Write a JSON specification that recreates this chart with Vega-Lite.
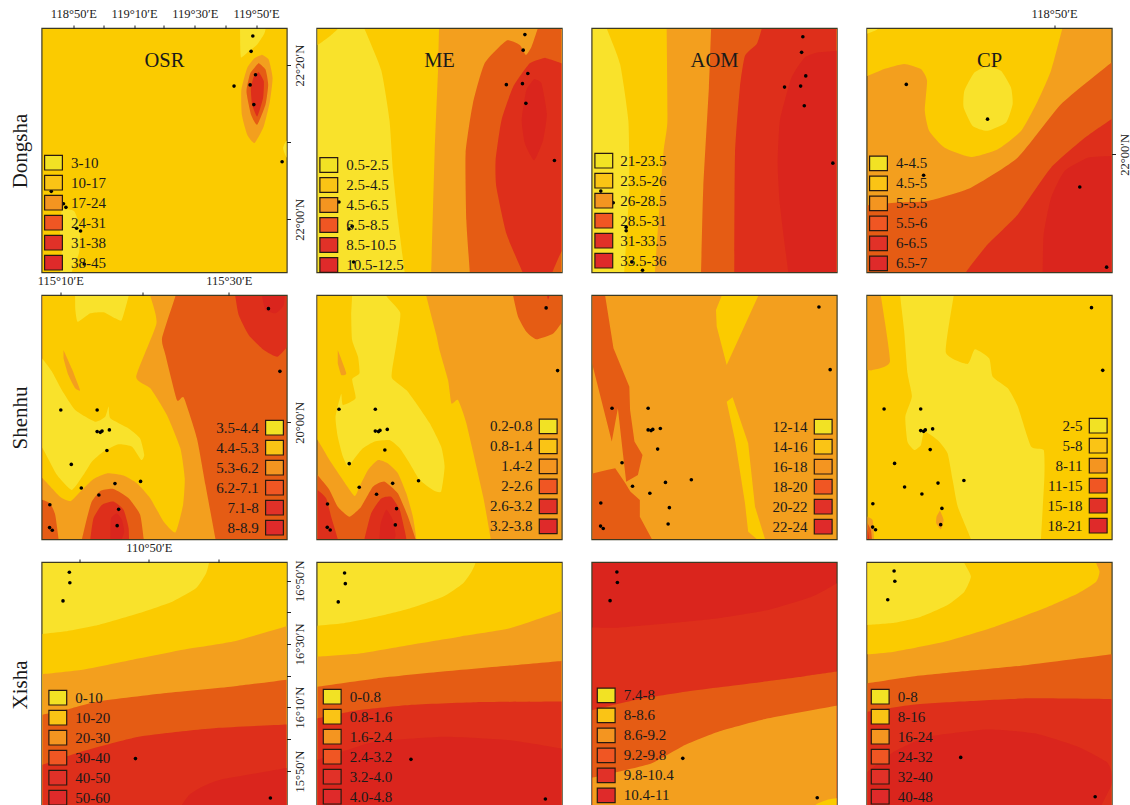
{"$schema":"https://vega.github.io/schema/vega-lite/v6.json","padding":{"left":7.5,"top":5,"right":0,"bottom":0},"background":"white","columns":4,"spacing":{"row":24,"column":31},"bounds":"flush","resolve":{"scale":{"fill":"independent"},"legend":{"fill":"independent"}},"config":{"font":"Liberation Serif","range":{"category":["#F9E22B","#FBCB00","#F39F1E","#E55C14","#DE2F1B","#DA251D"]},"view":{"stroke":"#3d3a22","strokeWidth":2.4},"axis":{"grid":false,"domain":false,"labelFont":"Liberation Serif","labelFontSize":12.5,"labelColor":"#222","tickColor":"#222","tickSize":4,"title":null,"labelOverlap":false,"labelBound":false,"labelFlush":false,"labelPadding":5,"titleFont":"Liberation Serif","titleFontSize":21,"titleFontWeight":"normal","titleColor":"#1a1a1a"},"legend":{"orient":"none","title":null,"zindex":1,"symbolSize":317,"labelFont":"Liberation Serif","labelFontSize":15,"labelColor":"#1a1a1a","labelOffset":7.5,"labelLimit":200},"title":{"font":"Liberation Serif","fontSize":20.5,"fontWeight":"normal","anchor":"middle","color":"#1a1a1a"},"circle":{"size":13,"color":"black","opacity":1},"square":{"size":0,"stroke":"#2a1a10","strokeWidth":1.2,"opacity":1},"line":{"stroke":"transparent","interpolate":"cardinal","tension":0.5}},"concat":[
{"title":{"text":"OSR","frame":"group","offset":-64,"zindex":1},"width":244,"height":243,"resolve":{"axis":{"y":"independent"},"scale":{"fill":"independent"}},"layer":[{"data":{"values":[
{"p":0,"l":"10-17","v":[[-9,-9],[109,-9],[109,109],[-9,109]]},
{"p":1,"l":"3-10","v":[[80.9,-6],[91.6,-6],[91.4,0],[90.7,2.3],[88,6.4],[84.5,9.2],[81.4,11.7],[81,5]]},
{"p":2,"l":"3-10","v":[[8,74],[13,75],[15.4,82],[15,92],[12,100],[11,106],[7,106],[8,90],[7,82],[8,74]]},
{"p":3,"l":"3-10","v":[[104,44],[100,46],[98.6,49],[100,52.8],[104,55]]},
{"p":4,"l":"17-24","v":[[90,10.6],[92.7,12.6],[94.3,20.2],[93.2,29.8],[90.7,40],[86.9,46.9],[83.9,43.5],[81.7,35.3],[81.5,25],[83.9,16],[86.9,12],[90,10.6]]},
{"p":5,"l":"24-31","v":[[88.6,14],[91.4,16.7],[92.5,22.9],[91.4,31.1],[88,39.4],[85.5,35.3],[83.6,25.7],[85.2,18.1],[88.6,14]]},
{"p":6,"l":"31-38","v":[[88.6,17.7],[90.7,21.5],[90.4,28.4],[88,36],[85.9,31.1],[85.4,24.3],[86.6,19.5],[88.6,17.7]]}
]},"transform":[{"flatten":["v"]},{"window":[{"op":"row_number","as":"k"}]}],"mark":{"type":"line","clip":true},"encoding":{"x":{"field":"v[0]","type":"quantitative","scale":{"domain":[0,100],"nice":false,"zero":false},"axis":{"orient":"top","values":[12.6,25.1,37.5,49.7,62.4,74.9,87.5],"labelExpr":"datum.value==12.6?'118°50′E':datum.value==37.5?'119°10′E':datum.value==62.4?'119°30′E':datum.value==87.5?'119°50′E':''"}},"y":{"field":"v[1]","type":"quantitative","scale":{"domain":[100,0],"nice":false,"zero":false},"axis":{"orient":"right","values":[14.9,46.7,78.3],"labelAngle":-90,"labelAlign":"center","labelBaseline":"top","labelPadding":3,"labelExpr":"datum.value==14.9?'22°20′N':datum.value==78.3?'22°00′N':''"}},"fill":{"field":"l","type":"nominal","scale":{"domain":["3-10","10-17","17-24","24-31","31-38","38-45"]},"legend":null},"detail":{"field":"p"},"order":{"field":"k","type":"quantitative"}}},
{"data":{"values":[{"v":[86.2,2.9]},{"v":[85.5,9.2]},{"v":[87.3,18.8]},{"v":[85.1,23]},{"v":[78.5,23.5]},{"v":[86.6,31.1]},{"v":[98.2,54.6]},{"v":[3.6,66.8]},{"v":[8.6,71.9]},{"v":[9.6,73.4]},{"v":[14,82]},{"v":[15.6,83.1]},{"v":[17.1,96.7]}]},"mark":"circle","encoding":{"x":{"field":"v[0]","type":"quantitative"},"y":{"field":"v[1]","type":"quantitative","axis":{"orient":"left","title":"Dongsha","labels":false,"ticks":false,"titlePadding":12.5}}}},
{"data":{"values":[{"l":"3-10"},{"l":"10-17"},{"l":"17-24"},{"l":"24-31"},{"l":"31-38"},{"l":"38-45"}]},"mark":"square","encoding":{"fill":{"field":"l","type":"nominal","scale":{"domain":["3-10","10-17","17-24","24-31","31-38","38-45"],"range":["#F2E224","#FAC415","#F49520","#F05623","#E13128","#DF2A2A"]},"legend":{"legendX":1,"legendY":123.7,"symbolType":"M-1,-0.82H1V0.82H-1Z","rowPadding":0}}}}]},
{"title":{"text":"ME","frame":"group","offset":-42,"zindex":1},"width":244,"height":243,"resolve":{"scale":{"fill":"independent"}},"layer":[{"data":{"values":[
{"p":0,"l":"0.5-2.5","v":[[-9,-9],[109,-9],[109,109],[-9,109]]},
{"p":1,"l":"2.5-4.5","v":[[-8,10],[0,6.6],[5,3],[8.3,0],[10,-3],[-8,-3]]},
{"p":2,"l":"2.5-4.5","v":[[17,-6],[19.3,0],[26.1,16.9],[29.5,37.5],[30.9,58.1],[33,78.7],[35.7,100],[37,110],[110,110],[110,-6]]},
{"p":3,"l":"4.5-6.5","v":[[50,-6],[49.8,0],[49.4,16.9],[48,51.2],[46.6,100],[46,110],[110,110],[110,-6]]},
{"p":4,"l":"6.5-8.5","v":[[62.6,110],[62.4,100],[61,78.7],[60.7,51.2],[63.7,30.6],[68.5,14.1],[77.4,4.8],[82.9,6.6],[85.4,10.7],[87.7,7.3],[90.2,0],[92,-6],[110,-6],[110,110]]},
{"p":5,"l":"8.5-10.5","v":[[93.2,11.8],[100,14.1],[106,18],[110,60],[106,85],[100,91.7],[96.3,100],[94,106],[86,106],[84,100],[77.4,84.2],[73.3,65],[73,54],[75.4,37.5],[80.2,23.8],[87,14.1],[93.2,11.8]]},
{"p":6,"l":"10.5-12.5","v":[[88.8,20.6],[91.8,22.4],[94,34.8],[92.5,45.7],[88.8,54],[85,47.1],[83.7,37.5],[85.6,25.1],[88.8,20.6]]}
]},"transform":[{"flatten":["v"]},{"window":[{"op":"row_number","as":"k"}]}],"mark":{"type":"line","clip":true},"encoding":{"x":{"field":"v[0]","type":"quantitative","scale":{"domain":[0,100],"nice":false,"zero":false},"axis":null},"y":{"field":"v[1]","type":"quantitative","scale":{"domain":[100,0],"nice":false,"zero":false},"axis":null},"fill":{"field":"l","type":"nominal","scale":{"domain":["0.5-2.5","2.5-4.5","4.5-6.5","6.5-8.5","8.5-10.5","10.5-12.5"]},"legend":null},"detail":{"field":"p"},"order":{"field":"k","type":"quantitative"}}},
{"data":{"values":[{"v":[85,2.3]},{"v":[84.3,8.7]},{"v":[86.2,18.3]},{"v":[84,22.5]},{"v":[77.4,22.9]},{"v":[85.4,30.6]},{"v":[97.1,54.1]},{"v":[8.8,71.2]},{"v":[14.2,81.2]},{"v":[12.9,82.3]},{"v":[14.8,95.9]},{"v":[3,66.3]}]},"mark":"circle","encoding":{"x":{"field":"v[0]","type":"quantitative"},"y":{"field":"v[1]","type":"quantitative"}}},
{"data":{"values":[{"l":"0.5-2.5"},{"l":"2.5-4.5"},{"l":"4.5-6.5"},{"l":"6.5-8.5"},{"l":"8.5-10.5"},{"l":"10.5-12.5"}]},"mark":"square","encoding":{"fill":{"field":"l","type":"nominal","scale":{"domain":["0.5-2.5","2.5-4.5","4.5-6.5","6.5-8.5","8.5-10.5","10.5-12.5"],"range":["#F2E224","#FAC415","#F49520","#F05623","#E13128","#DF2A2A"]},"legend":{"legendX":1.3,"legendY":126,"symbolType":"M-1,-0.82H1V0.82H-1Z","rowPadding":0}}}}]},
{"title":{"text":"AOM","frame":"group","offset":-42,"zindex":1},"width":244,"height":243,"resolve":{"scale":{"fill":"independent"}},"layer":[{"data":{"values":[
{"p":0,"l":"21-23.5","v":[[-9,-9],[109,-9],[109,109],[-9,109]]},
{"p":1,"l":"23.5-26","v":[[4,-5],[5.9,0],[11.3,14.4],[14.7,37.8],[15.1,65.3],[14,84.6],[13,100],[12.5,110],[110,110],[110,-5]]},
{"p":2,"l":"26-28.5","v":[[30.4,-6],[30.4,0],[30.7,37.8],[29,51.6],[25.6,100],[25,110],[110,110],[110,-6]]},
{"p":3,"l":"28.5-31","v":[[48.7,-6],[48.6,0],[47.7,24.1],[45.4,65.3],[44.5,100],[44.3,110],[110,110],[110,-6]]},
{"p":4,"l":"31-33.5","v":[[70,-6],[69.3,0],[67.3,6.2],[62.5,11],[60.4,24.1],[58.4,51.6],[58.1,100],[58,110],[110,110],[110,-6]]},
{"p":5,"l":"33.5-36","v":[[92.5,9.6],[100,8.9],[110,8],[110,110],[81,110],[80.2,100],[76.8,72.2],[75.9,55.7],[76.8,37.8],[81.6,19.9],[87,11.7],[92.5,9.6]]}
]},"transform":[{"flatten":["v"]},{"window":[{"op":"row_number","as":"k"}]}],"mark":{"type":"line","clip":true},"encoding":{"x":{"field":"v[0]","type":"quantitative","scale":{"domain":[0,100],"nice":false,"zero":false},"axis":null},"y":{"field":"v[1]","type":"quantitative","scale":{"domain":[100,0],"nice":false,"zero":false},"axis":null},"fill":{"field":"l","type":"nominal","scale":{"domain":["21-23.5","23.5-26","26-28.5","28.5-31","31-33.5","33.5-36"]},"legend":null},"detail":{"field":"p"},"order":{"field":"k","type":"quantitative"}}},
{"data":{"values":[{"v":[86.2,3.2]},{"v":[85.7,9.6]},{"v":[87.4,19.3]},{"v":[85.3,23.5]},{"v":[78.7,23.9]},{"v":[86.8,31.6]},{"v":[98.5,55.2]},{"v":[3.4,66.7]},{"v":[8.5,71.5]},{"v":[13.8,81.6]},{"v":[13.8,83]},{"v":[16.1,95.9]},{"v":[20.5,99.3]}]},"mark":"circle","encoding":{"x":{"field":"v[0]","type":"quantitative"},"y":{"field":"v[1]","type":"quantitative"}}},
{"data":{"values":[{"l":"21-23.5"},{"l":"23.5-26"},{"l":"26-28.5"},{"l":"28.5-31"},{"l":"31-33.5"},{"l":"33.5-36"}]},"mark":"square","encoding":{"fill":{"field":"l","type":"nominal","scale":{"domain":["21-23.5","23.5-26","26-28.5","28.5-31","31-33.5","33.5-36"],"range":["#F2E224","#FAC415","#F49520","#F05623","#E13128","#DF2A2A"]},"legend":{"legendX":1.3,"legendY":121.7,"labelOffset":6.5,"symbolType":"M-1,-0.82H1V0.82H-1Z","rowPadding":0}}}}]},
{"title":{"text":"CP","frame":"group","offset":-64,"zindex":1},"width":244,"height":243,"resolve":{"scale":{"fill":"independent"}},"layer":[{"data":{"values":[
{"p":0,"l":"5-5.5","v":[[-9,-9],[109,-9],[109,109],[-9,109]]},
{"p":1,"l":"4.5-5","v":[[-8,20],[0,19.3],[6.8,16.5],[15,14.4],[21.9,16.5],[24.4,21.3],[23.5,33.7],[25.3,42],[31.5,48.8],[42.4,52.7],[53.4,49.5],[63,41.9],[69.8,29.6],[75.2,17.2],[79.8,0],[81,-6],[-8,-6]]},
{"p":2,"l":"4-4.5","v":[[49.2,15.2],[54.7,17.2],[58.8,24.1],[59.5,30.9],[56.8,38.5],[49.2,41.9],[43.1,39.9],[39.4,32.3],[39.7,25.4],[43.8,17.9],[49.2,15.2]]},
{"p":3,"l":"4-4.5","v":[[0,-3],[4.1,0],[0.3,1.8],[-3,3]]},
{"p":4,"l":"5.5-6","v":[[-8,73],[0,72.5],[11,71.5],[24.6,70.8],[42.4,65.3],[61.6,52.9],[79.3,31],[100,13.8],[108,7],[110,110],[-8,110]]},
{"p":5,"l":"6-6.5","v":[[38,106],[40.4,100],[49.2,88.7],[61.6,76.3],[75.2,57.1],[88.9,44.9],[100,37.1],[108,33],[110,110]]},
{"p":6,"l":"6.5-7","v":[[71.7,110],[71.8,100],[72.2,84.6],[75.2,69.5],[80.7,58.5],[90.3,53],[100,52.3],[110,52],[110,110]]}
]},"transform":[{"flatten":["v"]},{"window":[{"op":"row_number","as":"k"}]}],"mark":{"type":"line","clip":true},"encoding":{"x":{"field":"v[0]","type":"quantitative","scale":{"domain":[0,100],"nice":false,"zero":false},"axis":{"orient":"top","values":[76.5],"labelExpr":"'118°50′E'"}},"y":{"field":"v[1]","type":"quantitative","scale":{"domain":[100,0],"nice":false,"zero":false},"axis":{"orient":"right","values":[51.6],"labelAngle":-90,"labelAlign":"center","labelBaseline":"top","labelPadding":3,"labelExpr":"'22°00′N'"}},"fill":{"field":"l","type":"nominal","scale":{"domain":["4-4.5","4.5-5","5-5.5","5.5-6","6-6.5","6.5-7"]},"legend":null},"detail":{"field":"p"},"order":{"field":"k","type":"quantitative"}}},
{"data":{"values":[{"v":[15.9,22.8]},{"v":[49.2,37.1]},{"v":[23,60.2]},{"v":[87,65]},{"v":[98,98]}]},"mark":"circle","encoding":{"x":{"field":"v[0]","type":"quantitative"},"y":{"field":"v[1]","type":"quantitative"}}},
{"data":{"values":[{"l":"4-4.5"},{"l":"4.5-5"},{"l":"5-5.5"},{"l":"5.5-6"},{"l":"6-6.5"},{"l":"6.5-7"}]},"mark":"square","encoding":{"fill":{"field":"l","type":"nominal","scale":{"domain":["4-4.5","4.5-5","5-5.5","5.5-6","6-6.5","6.5-7"],"range":["#F2E224","#FAC415","#F49520","#F05623","#E13128","#DF2A2A"]},"legend":{"legendX":1,"legendY":124.4,"symbolType":"M-1,-0.82H1V0.82H-1Z","rowPadding":0}}}}]},
{"width":244,"height":243,"resolve":{"axis":{"y":"independent"},"scale":{"fill":"independent"}},"layer":[{"data":{"values":[
{"p":0,"l":"6.2-7.1","v":[[-9,-9],[109,-9],[109,109],[-9,109]]},
{"p":1,"l":"5.3-6.2","v":[[-8,-8],[56,-6],[54.5,0],[49,17.4],[50.4,24.3],[55.1,42.8],[57.9,41.8],[63.3,58.6],[66.8,77.8],[70.9,100],[72,106],[42,106],[41.5,100],[40,90],[35.3,83.2],[29.1,79.4],[23.7,80.2],[20.2,84.6],[18.2,91.5],[16.2,100],[15,106],[7,106],[6.6,100],[5.2,90],[3.1,85.3],[0,83.9],[-8,83]]},
{"p":2,"l":"4.4-5.3","v":[[-8,-8],[43,-6],[44.2,0],[46.7,11.3],[38.4,33.2],[44.2,38],[51,49],[56.5,62.7],[58.3,75],[57.6,86],[54.5,97.3],[49.7,92.9],[44.2,83.3],[38.7,77.1],[33.2,73.9],[26.4,73],[20.9,75.3],[15.5,80.5],[11.6,84.4],[7.2,82.6],[0,75],[-8,68]]},
{"p":3,"l":"5.3-6.2","v":[[8.6,22.2],[12,29.8],[15.4,38.7],[13.4,38],[10.6,32.5],[8.6,25.6]]},
{"p":4,"l":"3.5-4.4","v":[[13.3,-6],[36,-6],[35.3,0],[32.5,9.9],[29.8,9.2],[25,6.7],[19.6,7.1],[14.4,10.6],[13.4,5]]},
{"p":5,"l":"3.5-4.4","v":[[-8,18],[0,25.9],[3.8,31],[7.9,38.7],[13.4,46.9],[21.6,51.7],[25.7,49.7],[27.1,45.5],[27.8,50.3],[35.3,54.5],[40,58.6],[41.7,65.4],[40.5,67.5],[36.7,62],[31.2,61],[25,64],[20.2,68.2],[16.8,73.6],[12,79.8],[5.9,73.6],[0,62.7],[-8,52]]},
{"p":6,"l":"7.1-8","v":[[78,-6],[79,0],[80.4,7.8],[84.5,16],[90.7,22.2],[96.2,25],[100,21.3],[106,15],[106,-6]]},
{"p":7,"l":"8-8.9","v":[[89,-6],[90,0],[91.4,5.8],[95.5,7.1],[98.9,3.7],[99.5,-6]]},
{"p":8,"l":"7.1-8","v":[[19,106],[19.6,100],[20.9,91.5],[24.3,86],[29.1,84.6],[33.2,88],[35.3,95.6],[35.5,106]]},
{"p":9,"l":"8-8.9","v":[[27.7,106],[27.8,100],[28.1,91.5],[30.5,89.5],[32.6,92.2],[33.5,97],[32.6,100],[32,106]]}
]},"transform":[{"flatten":["v"]},{"window":[{"op":"row_number","as":"k"}]}],"mark":{"type":"line","clip":true},"encoding":{"x":{"field":"v[0]","type":"quantitative","scale":{"domain":[0,100],"nice":false,"zero":false},"axis":{"orient":"top","values":[7.3,41.1,76.4],"labelExpr":"datum.value==7.3?'115°10′E':datum.value==76.4?'115°30′E':''"}},"y":{"field":"v[1]","type":"quantitative","scale":{"domain":[100,0],"nice":false,"zero":false},"axis":{"orient":"right","values":[52],"labelAngle":-90,"labelAlign":"center","labelBaseline":"top","labelPadding":3,"labelExpr":"'20°00′N'"}},"fill":{"field":"l","type":"nominal","scale":{"domain":["3.5-4.4","4.4-5.3","5.3-6.2","6.2-7.1","7.1-8","8-8.9"]},"legend":null},"detail":{"field":"p"},"order":{"field":"k","type":"quantitative"}}},
{"data":{"values":[{"v":[92.6,5.2]},{"v":[97.3,31]},{"v":[7.5,46.9]},{"v":[22.4,46.9]},{"v":[22.4,55.8]},{"v":[23.7,56.1]},{"v":[24.4,55.6]},{"v":[27.4,55.1]},{"v":[26.4,63.6]},{"v":[11.8,69.3]},{"v":[15.9,79]},{"v":[29.7,77.2]},{"v":[40.2,76.3]},{"v":[23.1,81.9]},{"v":[3,85.9]},{"v":[31.2,87.8]},{"v":[30.6,94.5]},{"v":[2.9,95.3]},{"v":[4,96.4]}]},"mark":"circle","encoding":{"x":{"field":"v[0]","type":"quantitative"},"y":{"field":"v[1]","type":"quantitative","axis":{"orient":"left","title":"Shenhu","labels":false,"ticks":false,"titlePadding":12.5}}}},
{"data":{"values":[{"l":"3.5-4.4"},{"l":"4.4-5.3"},{"l":"5.3-6.2"},{"l":"6.2-7.1"},{"l":"7.1-8"},{"l":"8-8.9"}]},"mark":"square","encoding":{"fill":{"field":"l","type":"nominal","scale":{"domain":["3.5-4.4","4.4-5.3","5.3-6.2","6.2-7.1","7.1-8","8-8.9"],"range":["#F2E224","#FAC415","#F49520","#F05623","#E13128","#DF2A2A"]},"legend":{"legendX":222,"legendY":121.7,"labelAlign":"right","labelOffset":-25.8,"symbolType":"M-1,-0.82H1V0.82H-1Z","rowPadding":0}}}}]},
{"width":244,"height":243,"resolve":{"scale":{"fill":"independent"}},"layer":[{"data":{"values":[
{"p":0,"l":"1.4-2","v":[[-9,-9],[109,-9],[109,109],[-9,109]]},
{"p":1,"l":"0.8-1.4","v":[[-8,-8],[44,-6],[44.6,0],[48.7,16],[50,22.2],[53.5,34.6],[54.9,44.2],[57.6,42.8],[61,52.4],[67.9,82.6],[71,100],[72,106],[40,106],[40.5,100],[39.1,90.8],[36.4,81.2],[33,73],[28.9,68.9],[24.8,67.5],[20.7,71.6],[17.2,78.5],[15.2,82.3],[10.4,75.7],[4.9,67.5],[0,59.3],[-8,50]]},
{"p":2,"l":"1.4-2","v":[[8.3,22.2],[11.8,31.8],[9.7,32.5],[8.3,27.7]]},
{"p":3,"l":"0.2-0.8","v":[[14.5,-6],[27,-6],[28.2,0],[33.9,6.9],[32.6,18.1],[30.6,30.4],[30.6,33.9],[36.4,38.7],[40.5,44.2],[46,52.4],[50.7,62],[52.1,70.2],[50.7,80.5],[47.3,79.8],[41.9,75.7],[37.8,68.9],[33.7,62.7],[29.5,59.3],[23.4,59.9],[18.6,62.7],[15.2,66.8],[12.5,70.2],[10.4,66.1],[8.3,57.9],[7.4,49.7],[9.7,40.3],[10.4,44.9],[15.6,42.1],[14.2,34.3],[17.2,31.8],[16.6,25],[14.2,18.1],[13.8,7.1]]},
{"p":4,"l":"2-2.6","v":[[-8,64],[0,73.7],[4.9,79.8],[8.3,86.7],[13.1,90.8],[17.9,86.7],[22.7,78.5],[27.5,76.4],[32.9,81.2],[37.1,90.8],[40.2,100],[42,106],[-8,106]]},
{"p":5,"l":"2.6-3.2","v":[[-8,75],[0,79.8],[3.6,83.3],[5.6,90.8],[8.3,100],[9,106],[-8,106]]},
{"p":6,"l":"2.6-3.2","v":[[19,106],[19.3,100],[22,89.4],[26.1,83.3],[30.2,82.6],[33.7,88],[35.7,96.3],[36.4,100],[36.6,106]]},
{"p":7,"l":"3.2-3.8","v":[[25.3,106],[25.4,100],[25.9,93.6],[28.2,88],[30.9,92.2],[32,98.3],[31.6,100],[31.4,106]]},
{"p":8,"l":"2-2.6","v":[[79.5,-6],[80.2,0],[82.2,8.5],[85.6,14.7],[89.7,17.8],[96.6,15.4],[100,11.2],[106,5],[106,-6]]},
{"p":9,"l":"2.6-3.2","v":[[93.5,-3],[94.5,1.4],[96,-3]]}
]},"transform":[{"flatten":["v"]},{"window":[{"op":"row_number","as":"k"}]}],"mark":{"type":"line","clip":true},"encoding":{"x":{"field":"v[0]","type":"quantitative","scale":{"domain":[0,100],"nice":false,"zero":false},"axis":null},"y":{"field":"v[1]","type":"quantitative","scale":{"domain":[100,0],"nice":false,"zero":false},"axis":null},"fill":{"field":"l","type":"nominal","scale":{"domain":["0.2-0.8","0.8-1.4","1.4-2","2-2.6","2.6-3.2","3.2-3.8"]},"legend":null},"detail":{"field":"p"},"order":{"field":"k","type":"quantitative"}}},
{"data":{"values":[{"v":[93.7,4.9]},{"v":[98.4,30.7]},{"v":[8.8,46.6]},{"v":[23.7,46.6]},{"v":[23.7,55.6]},{"v":[25,55.8]},{"v":[25.6,55.3]},{"v":[28.6,54.9]},{"v":[27.6,63.4]},{"v":[13,69]},{"v":[17.1,78.7]},{"v":[30.8,77.1]},{"v":[41.4,76]},{"v":[24.2,81.6]},{"v":[4.1,85.6]},{"v":[32.4,87.5]},{"v":[31.9,94.2]},{"v":[4,95.2]},{"v":[5.2,96.3]}]},"mark":"circle","encoding":{"x":{"field":"v[0]","type":"quantitative"},"y":{"field":"v[1]","type":"quantitative"}}},
{"data":{"values":[{"l":"0.2-0.8"},{"l":"0.8-1.4"},{"l":"1.4-2"},{"l":"2-2.6"},{"l":"2.6-3.2"},{"l":"3.2-3.8"}]},"mark":"square","encoding":{"fill":{"field":"l","type":"nominal","scale":{"domain":["0.2-0.8","0.8-1.4","1.4-2","2-2.6","2.6-3.2","3.2-3.8"],"range":["#F2E224","#FAC415","#F49520","#F05623","#E13128","#DF2A2A"]},"legend":{"legendX":220.7,"legendY":120.4,"labelAlign":"right","labelOffset":-25.8,"symbolType":"M-1,-0.82H1V0.82H-1Z","rowPadding":0}}}}]},
{"width":244,"height":243,"resolve":{"scale":{"fill":"independent"}},"layer":[{"data":{"values":[
{"p":0,"l":"16-18","v":[[-9,-9],[109,-9],[109,109],[-9,109]]},
{"p":1,"l":"18-20","v":[[-5,-5],[4.5,-5],[5.2,0],[8.6,21.5],[15.1,37.3],[15.4,46.9],[17.2,59.9],[20.5,65.4],[18.6,73.7],[13.8,76.4],[12.3,63.4],[10.4,46.2],[7.9,59.9],[0,28.4],[-5,10]]},
{"p":2,"l":"18-20","v":[[-5,73.5],[0,73],[5.9,71.6],[9.3,70.9],[13.4,77],[15.5,80.5],[19.4,84],[19.4,90.8],[24.3,100],[27,105],[-5,105]]},
{"p":3,"l":"14-16","v":[[52.9,-5],[70,-5],[67.9,0],[55,28.4],[50.9,12.6],[50.6,5.8],[52.9,0]]},
{"p":4,"l":"14-16","v":[[57.4,41.7],[55,43.5],[58.4,59.3],[62.5,85.3],[63.8,97],[67.3,100],[70.7,100],[66.6,86.7],[63.8,60.6],[57.4,41.7]]}
]},"transform":[{"flatten":["v"]},{"window":[{"op":"row_number","as":"k"}]}],"mark":{"type":"line","clip":true,"interpolate":"linear"},"encoding":{"x":{"field":"v[0]","type":"quantitative","scale":{"domain":[0,100],"nice":false,"zero":false},"axis":null},"y":{"field":"v[1]","type":"quantitative","scale":{"domain":[100,0],"nice":false,"zero":false},"axis":null},"fill":{"field":"l","type":"nominal","scale":{"domain":["12-14","14-16","16-18","18-20","20-22","22-24"]},"legend":null},"detail":{"field":"p"},"order":{"field":"k","type":"quantitative"}}},
{"data":{"values":[{"v":[92.8,4.5]},{"v":[97.4,30.3]},{"v":[8,46.2]},{"v":[22.8,46.2]},{"v":[22.8,55.1]},{"v":[24,55.4]},{"v":[24.7,54.9]},{"v":[27.8,54.5]},{"v":[26.7,63]},{"v":[12.1,68.6]},{"v":[16.4,78.3]},{"v":[29.9,76.7]},{"v":[40.5,75.6]},{"v":[23.5,81.2]},{"v":[3.4,85.2]},{"v":[31.5,87.1]},{"v":[31,93.8]},{"v":[3.3,94.7]},{"v":[4.4,95.7]}]},"mark":"circle","encoding":{"x":{"field":"v[0]","type":"quantitative"},"y":{"field":"v[1]","type":"quantitative"}}},
{"data":{"values":[{"l":"12-14"},{"l":"14-16"},{"l":"16-18"},{"l":"18-20"},{"l":"20-22"},{"l":"22-24"}]},"mark":"square","encoding":{"fill":{"field":"l","type":"nominal","scale":{"domain":["12-14","14-16","16-18","18-20","20-22","22-24"],"range":["#F2E224","#FAC415","#F49520","#F05623","#E13128","#DF2A2A"]},"legend":{"legendX":220.7,"legendY":120.7,"labelAlign":"right","labelOffset":-25.8,"symbolType":"M-1,-0.82H1V0.82H-1Z","rowPadding":0}}}}]},
{"width":244,"height":243,"resolve":{"scale":{"fill":"independent"}},"layer":[{"data":{"values":[
{"p":0,"l":"5-8","v":[[-9,-9],[109,-9],[109,109],[-9,109]]},
{"p":1,"l":"8-11","v":[[-8,-6],[5,-6],[5.5,0],[9.2,27],[2.1,30.5],[0,30.5],[-8,31]]},
{"p":2,"l":"2-5","v":[[13.2,-6],[13.4,0],[15,14],[16.4,31.8],[18.2,41.4],[15.5,49.7],[16.4,60],[19.2,63.4],[21.9,61.3],[23.3,55.8],[28.7,59.3],[32.8,64.7],[34.9,75.7],[37,86.7],[42.4,100],[44,106],[71,106],[71.1,100],[72.5,74.3],[72.2,63.4],[67,61.9],[61.6,45.5],[57.5,38],[51.3,33.2],[49.9,25.7],[44,21.9],[41,28],[32.1,23.3],[35.3,0],[36,-6]]},
{"p":3,"l":"8-11","v":[[29.7,88.3],[31.2,92.2],[30.1,96],[28.2,93.6],[28.3,90.8],[29.7,88.3]]},
{"p":4,"l":"8-11","v":[[-4,88],[0,90.8],[2.1,92.2],[2.7,100],[3,106],[-4,106]]},
{"p":5,"l":"11-15","v":[[-3,91],[0,93.6],[1.4,96.3],[1.8,100],[2,106],[-3,106]]},
{"p":6,"l":"15-18","v":[[-3,94],[0,96.3],[0.7,100],[1,106],[-3,106]]}
]},"transform":[{"flatten":["v"]},{"window":[{"op":"row_number","as":"k"}]}],"mark":{"type":"line","clip":true},"encoding":{"x":{"field":"v[0]","type":"quantitative","scale":{"domain":[0,100],"nice":false,"zero":false},"axis":null},"y":{"field":"v[1]","type":"quantitative","scale":{"domain":[100,0],"nice":false,"zero":false},"axis":null},"fill":{"field":"l","type":"nominal","scale":{"domain":["2-5","5-8","8-11","11-15","15-18","18-21"]},"legend":null},"detail":{"field":"p"},"order":{"field":"k","type":"quantitative"}}},
{"data":{"values":[{"v":[91.8,4.8]},{"v":[96.4,30.6]},{"v":[6.8,46.5]},{"v":[21.8,46.5]},{"v":[21.8,55.4]},{"v":[23,55.7]},{"v":[23.7,55.1]},{"v":[26.7,54.7]},{"v":[25.7,63.2]},{"v":[11.1,68.9]},{"v":[15.2,78.6]},{"v":[28.9,77]},{"v":[39.5,75.9]},{"v":[22.3,81.5]},{"v":[2.2,85.5]},{"v":[30.5,87.4]},{"v":[30,94.1]},{"v":[2.1,95.1]},{"v":[3.3,96.2]}]},"mark":"circle","encoding":{"x":{"field":"v[0]","type":"quantitative"},"y":{"field":"v[1]","type":"quantitative"}}},
{"data":{"values":[{"l":"2-5"},{"l":"5-8"},{"l":"8-11"},{"l":"11-15"},{"l":"15-18"},{"l":"18-21"}]},"mark":"square","encoding":{"fill":{"field":"l","type":"nominal","scale":{"domain":["2-5","5-8","8-11","11-15","15-18","18-21"],"range":["#F2E224","#FAC415","#F49520","#F05623","#E13128","#DF2A2A"]},"legend":{"legendX":220.7,"legendY":119.7,"labelAlign":"right","labelOffset":-25.8,"symbolType":"M-1,-0.82H1V0.82H-1Z","rowPadding":0}}}}]},
{"width":244,"height":243,"resolve":{"axis":{"y":"independent"},"scale":{"fill":"independent"}},"layer":[{"data":{"values":[
{"p":0,"l":"0-10","v":[[-9,-9],[109,-9],[109,109],[-9,109]]},
{"p":1,"l":"10-20","v":[[-8,30],[0,29.2],[9.6,28.1],[23.3,25.4],[39.7,20.6],[53.4,15.8],[63,10.3],[67.1,4.1],[68.2,0],[69,-6],[110,-6],[110,110],[-8,110]]},
{"p":2,"l":"20-30","v":[[-8,46.3],[0,45.7],[16.4,43.9],[37,39.8],[57.5,35.7],[78.1,32.3],[100,26],[108,23.5],[110,110],[-8,110]]},
{"p":3,"l":"30-40","v":[[-8,63.5],[0,62.4],[9.6,60.4],[23.3,56.9],[50.7,53.5],[78.1,50.8],[100,48],[108,47],[110,110],[-8,110]]},
{"p":4,"l":"40-50","v":[[-8,85],[0,83],[16.4,77.5],[37,72],[50.7,70],[71.2,67.9],[100,66.5],[108,66],[110,110],[-8,110]]},
{"p":5,"l":"50-60","v":[[55,106],[56.9,100],[60.3,95.3],[65.8,91.9],[73.3,89.1],[100,84.4],[108,83],[110,110]]}
]},"transform":[{"flatten":["v"]},{"window":[{"op":"row_number","as":"k"}]}],"mark":{"type":"line","clip":true},"encoding":{"x":{"field":"v[0]","type":"quantitative","scale":{"domain":[0,100],"nice":false,"zero":false},"axis":{"orient":"top","values":[15,43.6,72],"labelExpr":"datum.value==43.6?'110°50′E':''"}},"y":{"field":"v[1]","type":"quantitative","scale":{"domain":[100,0],"nice":false,"zero":false},"axis":{"orient":"right","values":[7.3,20.3,33.3,46.3,59.3,72.5,85.6],"labelAngle":-90,"labelAlign":"center","labelBaseline":"top","labelPadding":3,"labelExpr":"datum.value==7.3?'16°50′N':datum.value==33.3?'16°30′N':datum.value==59.3?'16°10′N':datum.value==85.6?'15°50′N':''"}},"fill":{"field":"l","type":"nominal","scale":{"domain":["0-10","10-20","20-30","30-40","40-50","50-60"]},"legend":null},"detail":{"field":"p"},"order":{"field":"k","type":"quantitative"}}},
{"data":{"values":[{"v":[11,3.8]},{"v":[11.2,8.1]},{"v":[8.4,15.6]},{"v":[38.1,80.5]},{"v":[93.4,96.7]}]},"mark":"circle","encoding":{"x":{"field":"v[0]","type":"quantitative"},"y":{"field":"v[1]","type":"quantitative","axis":{"orient":"left","title":"Xisha","labels":false,"ticks":false,"titlePadding":12.5}}}},
{"data":{"values":[{"l":"0-10"},{"l":"10-20"},{"l":"20-30"},{"l":"30-40"},{"l":"40-50"},{"l":"50-60"}]},"mark":"square","encoding":{"fill":{"field":"l","type":"nominal","scale":{"domain":["0-10","10-20","20-30","30-40","40-50","50-60"],"range":["#F2E224","#FAC415","#F49520","#F05623","#E13128","#DF2A2A"]},"legend":{"legendX":5.3,"legendY":124.7,"symbolType":"M-1,-0.82H1V0.82H-1Z","rowPadding":0}}}}]},
{"width":244,"height":243,"resolve":{"scale":{"fill":"independent"}},"layer":[{"data":{"values":[
{"p":0,"l":"0-0.8","v":[[-9,-9],[109,-9],[109,109],[-9,109]]},
{"p":1,"l":"0.8-1.6","v":[[-8,26.5],[0,25.8],[10.4,24.8],[24.1,22.1],[37.8,18.7],[51.4,13.9],[59.6,8.4],[63.1,3.6],[64.7,0],[65.5,-6],[110,-6],[110,110],[-8,110]]},
{"p":2,"l":"1.6-2.4","v":[[-8,39],[0,38.5],[17.2,37.2],[37.8,33.7],[58.3,30.3],[78.8,26.9],[100,19.8],[108,16.5],[110,110],[-8,110]]},
{"p":3,"l":"2.4-3.2","v":[[-8,52],[0,50.9],[24.1,47.5],[51.4,44.7],[78.8,42.2],[100,40.3],[108,39.6],[110,110],[-8,110]]},
{"p":4,"l":"3.2-4.0","v":[[-8,65.5],[0,63.9],[17.2,60.5],[37.8,58.4],[65.1,57.3],[100,57],[108,57],[110,110],[-8,110]]},
{"p":5,"l":"4.0-4.8","v":[[-8,83.5],[0,81],[10.4,77.6],[24.1,73.5],[51.4,71.5],[78.8,72.9],[100,76.3],[108,78],[110,110],[-8,110]]}
]},"transform":[{"flatten":["v"]},{"window":[{"op":"row_number","as":"k"}]}],"mark":{"type":"line","clip":true},"encoding":{"x":{"field":"v[0]","type":"quantitative","scale":{"domain":[0,100],"nice":false,"zero":false},"axis":null},"y":{"field":"v[1]","type":"quantitative","scale":{"domain":[100,0],"nice":false,"zero":false},"axis":null},"fill":{"field":"l","type":"nominal","scale":{"domain":["0-0.8","0.8-1.6","1.6-2.4","2.4-3.2","3.2-4.0","4.0-4.8"]},"legend":null},"detail":{"field":"p"},"order":{"field":"k","type":"quantitative"}}},
{"data":{"values":[{"v":[11.1,4.1]},{"v":[11.4,8.5]},{"v":[8.5,16]},{"v":[38.3,80.8]},{"v":[93.4,97.1]}]},"mark":"circle","encoding":{"x":{"field":"v[0]","type":"quantitative"},"y":{"field":"v[1]","type":"quantitative"}}},
{"data":{"values":[{"l":"0-0.8"},{"l":"0.8-1.6"},{"l":"1.6-2.4"},{"l":"2.4-3.2"},{"l":"3.2-4.0"},{"l":"4.0-4.8"}]},"mark":"square","encoding":{"fill":{"field":"l","type":"nominal","scale":{"domain":["0-0.8","0.8-1.6","1.6-2.4","2.4-3.2","3.2-4.0","4.0-4.8"],"range":["#F2E224","#FAC415","#F49520","#F05623","#E13128","#DF2A2A"]},"legend":{"legendX":4.7,"legendY":123.7,"symbolType":"M-1,-0.82H1V0.82H-1Z","rowPadding":0}}}}]},
{"width":244,"height":243,"resolve":{"scale":{"fill":"independent"}},"layer":[{"data":{"values":[
{"p":0,"l":"10.4-11","v":[[-9,-9],[109,-9],[109,109],[-9,109]]},
{"p":1,"l":"9.8-10.4","v":[[-8,26.5],[0,26.5],[10.6,26.6],[31.1,24.8],[51.6,22.7],[72,19.3],[89.8,13.9],[100,8.4],[108,3],[110,110],[-8,110]]},
{"p":2,"l":"9.2-9.8","v":[[-8,62.5],[0,60.5],[17.5,56.4],[37.9,53],[65.2,49.5],[85.7,46.8],[100,44.7],[108,43.5],[110,110],[-8,110]]},
{"p":3,"l":"8.6-9.2","v":[[-8,90],[0,88.3],[10.6,85.9],[24.3,82.4],[37.9,74.9],[51.6,69.4],[72,63.9],[100,58.7],[108,57],[110,110],[-8,110]]},
{"p":4,"l":"8-8.6","v":[[90,100.5],[92.5,98.9],[96.6,97.3],[100,96.8],[106,96],[106,106],[90,106]]}
]},"transform":[{"flatten":["v"]},{"window":[{"op":"row_number","as":"k"}]}],"mark":{"type":"line","clip":true},"encoding":{"x":{"field":"v[0]","type":"quantitative","scale":{"domain":[0,100],"nice":false,"zero":false},"axis":null},"y":{"field":"v[1]","type":"quantitative","scale":{"domain":[100,0],"nice":false,"zero":false},"axis":null},"fill":{"field":"l","type":"nominal","scale":{"domain":["7.4-8","8-8.6","8.6-9.2","9.2-9.8","9.8-10.4","10.4-11"]},"legend":null},"detail":{"field":"p"},"order":{"field":"k","type":"quantitative"}}},
{"data":{"values":[{"v":[10,3.7]},{"v":[10.2,8]},{"v":[7.2,15.5]},{"v":[37,80.4]},{"v":[92.1,96.6]}]},"mark":"circle","encoding":{"x":{"field":"v[0]","type":"quantitative"},"y":{"field":"v[1]","type":"quantitative"}}},
{"data":{"values":[{"l":"7.4-8"},{"l":"8-8.6"},{"l":"8.6-9.2"},{"l":"9.2-9.8"},{"l":"9.8-10.4"},{"l":"10.4-11"}]},"mark":"square","encoding":{"fill":{"field":"l","type":"nominal","scale":{"domain":["7.4-8","8-8.6","8.6-9.2","9.2-9.8","9.8-10.4","10.4-11"],"range":["#F2E224","#FAC415","#F49520","#F05623","#E13128","#DF2A2A"]},"legend":{"legendX":3.7,"legendY":122.4,"symbolType":"M-1,-0.82H1V0.82H-1Z","rowPadding":0}}}}]},
{"width":244,"height":243,"resolve":{"scale":{"fill":"independent"}},"layer":[{"data":{"values":[
{"p":0,"l":"16-24","v":[[-9,-9],[109,-9],[109,109],[-9,109]]},
{"p":1,"l":"8-16","v":[[-8,38],[0,37.6],[10.9,36.5],[31.5,32.4],[52,26.3],[72.5,18.6],[86.2,12.5],[93.7,7.7],[95.1,3.6],[93.7,0],[92,-6],[-8,-6]]},
{"p":2,"l":"0-8","v":[[-8,-6],[38,-6],[39.7,0],[42.4,5.6],[39.7,11.8],[32.8,17.3],[21.9,22.1],[11,24.6],[0,25.5],[-8,26]]},
{"p":3,"l":"24-32","v":[[-8,50.5],[0,49.5],[17.8,46.8],[38.3,44.7],[65.7,42],[100,37.6],[108,36.5],[110,110],[-8,110]]},
{"p":4,"l":"32-40","v":[[-8,62.5],[0,61.2],[17.8,58.4],[38.3,57],[65.7,55.7],[100,56],[108,56],[110,110],[-8,110]]},
{"p":5,"l":"40-48","v":[[-8,92],[0,85.9],[11,77.6],[24.6,71.5],[49.2,68.5],[68.4,70.1],[86.2,75.6],[97.8,81.7],[100,85.9],[100,91.4],[95.8,100],[94,106],[-8,106]]}
]},"transform":[{"flatten":["v"]},{"window":[{"op":"row_number","as":"k"}]}],"mark":{"type":"line","clip":true},"encoding":{"x":{"field":"v[0]","type":"quantitative","scale":{"domain":[0,100],"nice":false,"zero":false},"axis":null},"y":{"field":"v[1]","type":"quantitative","scale":{"domain":[100,0],"nice":false,"zero":false},"axis":null},"fill":{"field":"l","type":"nominal","scale":{"domain":["0-8","8-16","16-24","24-32","32-40","40-48"]},"legend":null},"detail":{"field":"p"},"order":{"field":"k","type":"quantitative"}}},
{"data":{"values":[{"v":[10.9,3.3]},{"v":[11.2,7.5]},{"v":[8.3,15.1]},{"v":[38.2,80]},{"v":[93.3,96.2]}]},"mark":"circle","encoding":{"x":{"field":"v[0]","type":"quantitative"},"y":{"field":"v[1]","type":"quantitative"}}},
{"data":{"values":[{"l":"0-8"},{"l":"8-16"},{"l":"16-24"},{"l":"24-32"},{"l":"32-40"},{"l":"40-48"}]},"mark":"square","encoding":{"fill":{"field":"l","type":"nominal","scale":{"domain":["0-8","8-16","16-24","24-32","32-40","40-48"],"range":["#F2E224","#FAC415","#F49520","#F05623","#E13128","#DF2A2A"]},"legend":{"legendX":2.7,"legendY":123.7,"symbolType":"M-1,-0.82H1V0.82H-1Z","rowPadding":0}}}}]}
]}
